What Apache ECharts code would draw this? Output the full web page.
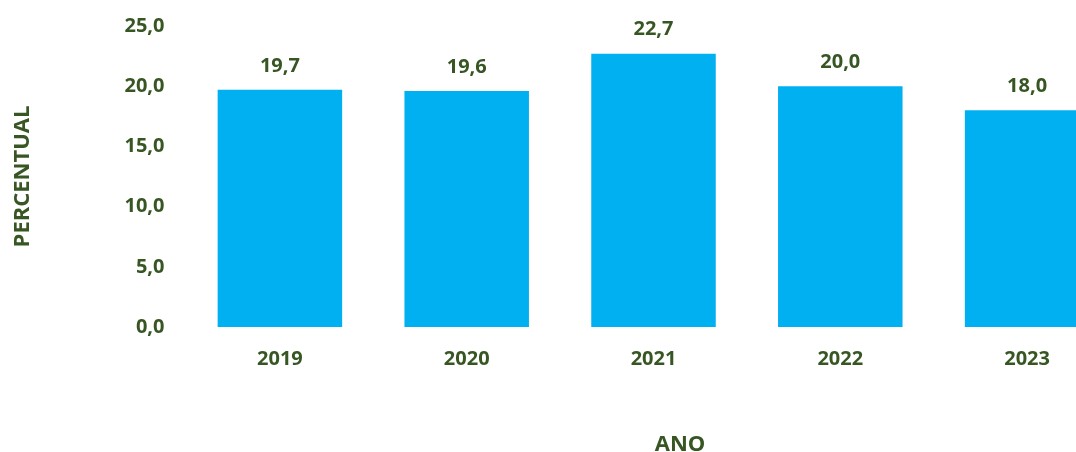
<!DOCTYPE html>
<html>
<head>
<meta charset="utf-8">
<script src="https://cdn.jsdelivr.net/npm/echarts@6/dist/echarts.min.js"></script>
<style>
html,body{margin:0;padding:0;background:#fff;}
#c{width:1076px;height:452px;}
</style>
</head>
<body>
<div id="c"></div>
<script>
const categories = ['2019', '2020', '2021', '2022', '2023'];
const values = [19.7, 19.6, 22.7, 20.0, 18.0];
const yTicks = [0, 5, 10, 15, 20, 25];
const xTitle = 'ANO';
const yTitle = 'PERCENTUAL';

const green = '#375623';
const font = '"Open Sans", "Segoe UI", sans-serif';
const fmt = v => Number(v).toFixed(1).replace('.', ',');

const chart = echarts.init(document.getElementById('c'), null, {renderer: 'canvas'});
chart.setOption({
  backgroundColor: '#ffffff',
  animation: false,
  grid: {left: 186.5, top: 26, width: 934, height: 301, containLabel: false, outerBoundsMode: 'none'},
  title: {
    text: xTitle,
    left: 675, top: 429, textAlign: 'center',
    textStyle: {color: green, fontFamily: font, fontWeight: 'bold', fontSize: 22}
  },
  xAxis: {
    type: 'category',
    data: categories,
    axisLine: {show: false},
    axisTick: {show: false},
    axisLabel: {color: green, fontFamily: font, fontWeight: 'bold', fontSize: 20, margin: 22}
  },
  yAxis: {
    type: 'value',
    min: yTicks[0], max: yTicks[yTicks.length - 1], interval: 5,
    name: yTitle,
    nameLocation: 'middle',
    nameRotate: 90,
    nameGap: 153,
    nameTextStyle: {color: green, fontFamily: font, fontWeight: 'bold', fontSize: 22, padding: [0, 0, 0, 0]},
    axisLine: {show: false},
    axisTick: {show: false},
    splitLine: {show: false},
    axisLabel: {color: green, fontFamily: font, fontWeight: 'bold', fontSize: 20, margin: 22, formatter: fmt}
  },
  series: [{
    type: 'bar',
    data: values,
    barWidth: 124.5,
    itemStyle: {color: '#00B0F0'},
    label: {
      show: true, position: 'top', distance: 14,
      color: green, fontFamily: font, fontWeight: 'bold', fontSize: 20,
      formatter: p => fmt(p.value)
    }
  }]
});
</script>
</body>
</html>
